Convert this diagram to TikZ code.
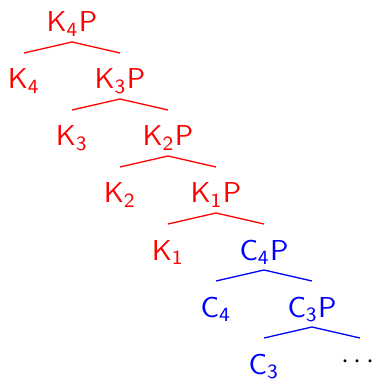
\documentclass[tikz,border=0pt]{standalone}
\usetikzlibrary{calc}
\begin{document}
\begin{tikzpicture}[x=0.3472pt,y=-0.3472pt,
  lbl/.style={inner sep=0pt,anchor=base,font=\sffamily},
  kcol/.style={text=red},
  ccol/.style={text=blue},
  edge/.style={line width=0.45pt}]
\useasboundingbox (0,0) rectangle (373,380);
% parents (baselines)
\node[lbl,kcol] (p0) at (72,32)  {$\mathsf{K}_{\mathsf{4}}\mathsf{P}$};
\node[lbl,kcol] (p1) at (120,89) {$\mathsf{K}_{\mathsf{3}}\mathsf{P}$};
\node[lbl,kcol] (p2) at (168,146) {$\mathsf{K}_{\mathsf{2}}\mathsf{P}$};
\node[lbl,kcol] (p3) at (216,203) {$\mathsf{K}_{\mathsf{1}}\mathsf{P}$};
\node[lbl,ccol] (p4) at (264,260) {$\mathsf{C}_{\mathsf{4}}\mathsf{P}$};
\node[lbl,ccol] (p5) at (312,317) {$\mathsf{C}_{\mathsf{3}}\mathsf{P}$};
% leaves
\node[lbl,kcol] (l0) at (24,89)  {$\mathsf{K}_{\mathsf{4}}$};
\node[lbl,kcol] (l1) at (72,146) {$\mathsf{K}_{\mathsf{3}}$};
\node[lbl,kcol] (l2) at (120,203) {$\mathsf{K}_{\mathsf{2}}$};
\node[lbl,kcol] (l3) at (168,260) {$\mathsf{K}_{\mathsf{1}}$};
\node[lbl,ccol] (l4) at (216,317) {$\mathsf{C}_{\mathsf{4}}$};
\node[lbl,ccol] (l5) at (264,374) {$\mathsf{C}_{\mathsf{3}}$};
\node[inner sep=0pt] (dots) at (358,362) {$\cdots$};
% connectors
\foreach \i/\c in {0/red,1/red,2/red,3/red,4/blue,5/blue}{
  \coordinate (a\i) at ($(p\i.base)+(0,10)$);
  \coordinate (e\i) at ($(p\i.base)+(-48,21)$);
  \coordinate (f\i) at ($(p\i.base)+(48,21)$);
  \draw[edge,draw=\c] (e\i) -- (a\i) -- (f\i);
}
\end{tikzpicture}
\end{document}
